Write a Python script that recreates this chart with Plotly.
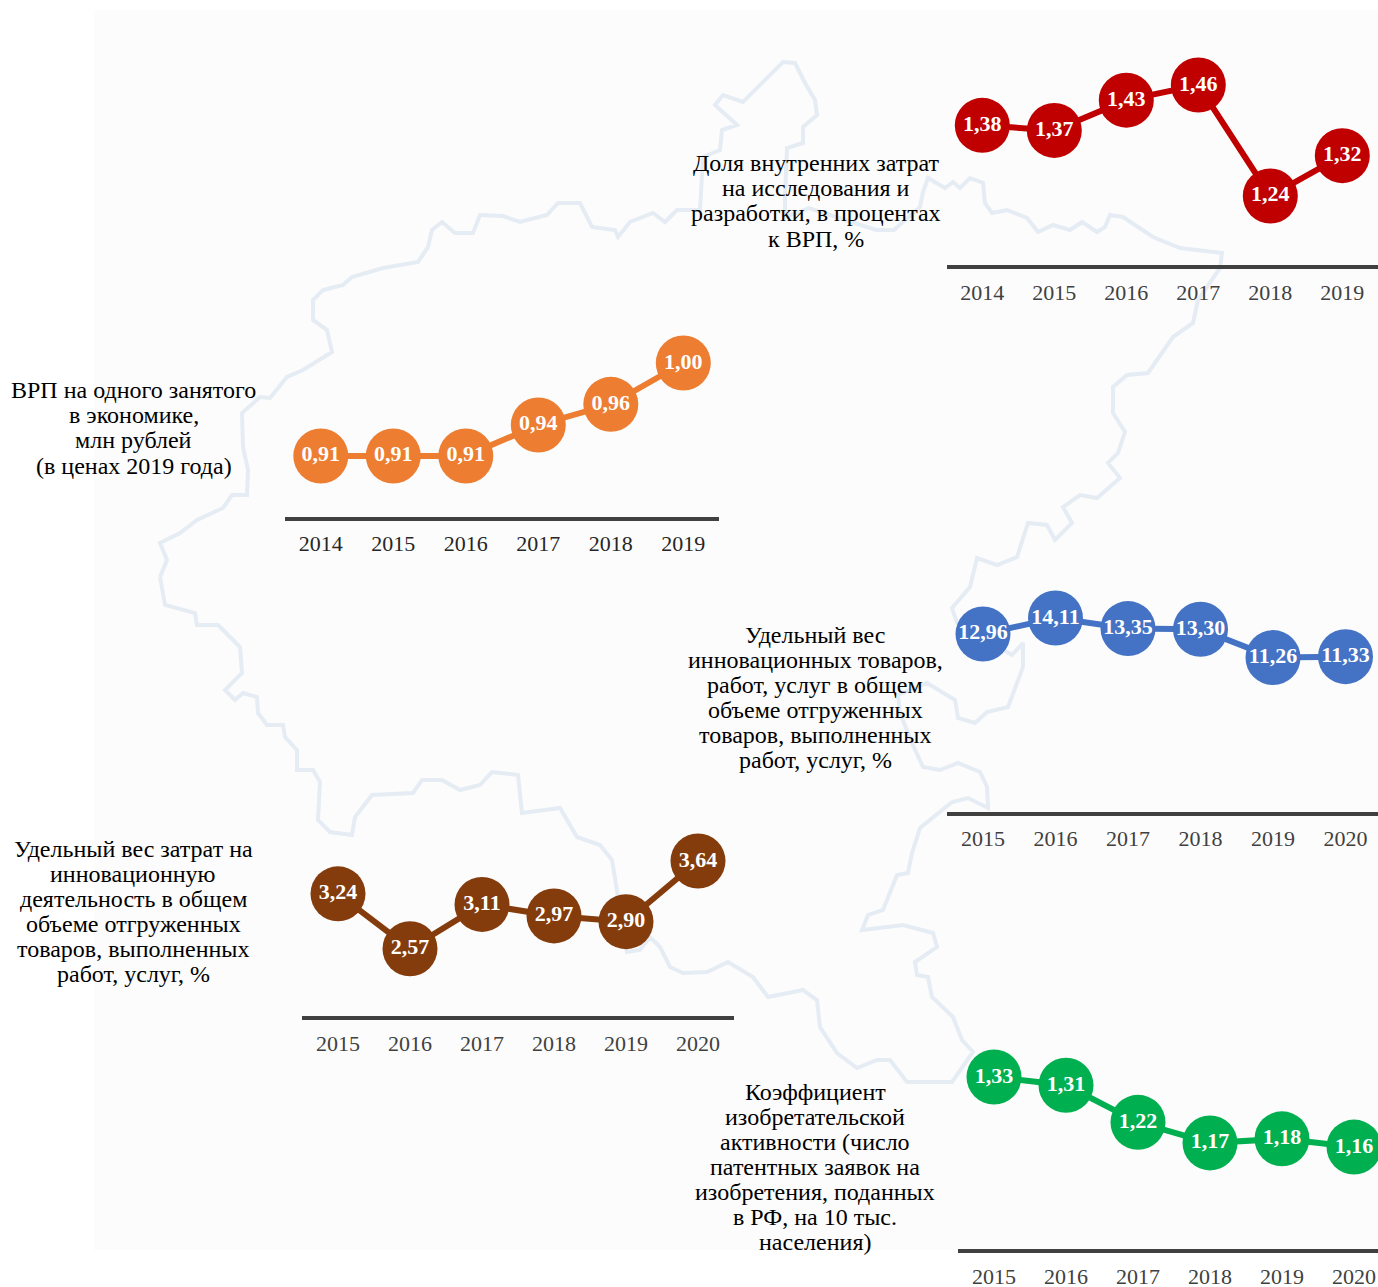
import plotly.graph_objects as go

W, H = 1378, 1287

# ---- data ----
years_a = ["2014", "2015", "2016", "2017", "2018", "2019"]
years_b = ["2015", "2016", "2017", "2018", "2019", "2020"]

rd_share = [1.38, 1.37, 1.43, 1.46, 1.24, 1.32]
grp_per_worker = [0.91, 0.91, 0.91, 0.94, 0.96, 1.00]
innov_goods = [12.96, 14.11, 13.35, 13.30, 11.26, 11.33]
innov_costs = [3.24, 2.57, 3.11, 2.97, 2.90, 3.64]
invent_activity = [1.33, 1.31, 1.22, 1.17, 1.18, 1.16]

rd_label = ["Доля внутренних затрат", "на исследования и", "разработки, в процентах", "к ВРП, %"]
grp_label = ["ВРП на одного занятого", "в экономике,", "млн рублей", "(в ценах 2019 года)"]
goods_label = ["Удельный вес", "инновационных товаров,", "работ, услуг в общем", "объеме отгруженных",
               "товаров, выполненных", "работ, услуг, %"]
costs_label = ["Удельный вес затрат на", "инновационную", "деятельность в общем", "объеме отгруженных",
               "товаров, выполненных", "работ, услуг, %"]
invent_label = ["Коэффициент", "изобретательской", "активности (число", "патентных заявок на",
                "изобретения, поданных", "в РФ, на 10 тыс.", "населения)"]

# faint region outline behind the charts (in picture pixels)
map_x = [160, 167, 160, 180, 197, 223, 232, 247, 248, 243, 242, 260, 270, 287, 303, 332, 327, 313, 313, 323, 343, 352,
         383, 418, 428, 432, 442, 455, 473, 480, 503, 520, 547, 558, 580, 592, 615, 618, 630, 653, 665, 677, 700, 702,
         703, 720, 722, 737, 715, 723, 743, 783, 795, 805, 815, 817, 803, 803, 787, 785, 785, 809, 876, 894, 920, 923,
         928, 945, 953, 960, 970, 983, 985, 992, 1007, 1027, 1038, 1053, 1070, 1082, 1097, 1105, 1110, 1123, 1153, 1180,
         1222, 1220, 1198, 1193, 1173, 1148, 1127, 1113, 1113, 1125, 1118, 1108, 1120, 1097, 1080, 1063, 1072, 1055,
         1047, 1028, 1017, 997, 977, 970, 952, 957, 1012, 1023, 1023, 1008, 987, 975, 958, 955, 927, 898, 900, 912, 923,
         940, 958, 980, 987, 988, 968, 952, 920, 912, 908, 897, 883, 868, 862, 903, 933, 937, 915, 917, 928, 932, 953,
         962, 973, 952, 907, 890, 877, 857, 837, 820, 817, 803, 768, 753, 728, 707, 683, 670, 660, 650, 640, 627, 617,
         612, 600, 577, 560, 522, 518, 492, 480, 460, 442, 422, 413, 372, 355, 352, 330, 318, 320, 313, 297, 297, 285,
         283, 267, 258, 257, 243, 235, 225, 242, 240, 218, 197, 195, 165, 160]
map_y = [577, 560, 543, 533, 520, 508, 495, 495, 470, 447, 413, 397, 398, 377, 370, 352, 330, 320, 300, 290, 285, 277,
         268, 262, 247, 230, 222, 233, 233, 215, 216, 222, 215, 203, 203, 227, 230, 237, 222, 213, 222, 210, 210, 183,
         157, 150, 130, 125, 105, 95, 102, 62, 63, 83, 100, 115, 127, 143, 148, 197, 217, 208, 230, 230, 207, 192,
         178, 188, 182, 188, 178, 183, 203, 213, 210, 218, 232, 225, 230, 222, 232, 227, 215, 217, 237, 248,
         253, 268, 300, 323, 337, 373, 375, 387, 413, 432, 453, 463, 478, 498, 495, 507, 523, 540,
         525, 523, 557, 565, 558, 587, 608, 623, 655, 643, 667, 707, 712, 723, 718, 700, 683, 695, 713, 743, 767,
         770, 763, 772, 787, 808, 798, 802, 828, 853, 873, 875, 910, 915, 930, 925, 933, 947, 962, 975, 977, 997, 1017,
         1040, 1052, 1082, 1082, 1060, 1060, 1068, 1053, 1027, 1000, 990, 997, 977, 962, 972, 973, 967, 947, 937, 950, 952, 893,
         860, 845, 837, 808, 813, 775, 772, 785, 790, 780, 780, 793, 795, 817, 835, 832, 820, 782, 770, 770, 750, 737,
         725, 725, 713, 697, 693, 700, 690, 673, 647, 625, 625, 613, 605, 577]

# ---- layout of the five panels (pixels) ----
panels = [
    dict(cats=years_a, vals=rd_share, color="#C00000", left=947, right=1378, base=265, top=40,
         c0=982.3, step=72, v_ref=1.46, y_ref=85, scale=504.5, tick="#404040", tlen=5, fs=24,
         label=rd_label, lx=816, ly=[163, 188, 213, 239]),
    dict(cats=years_a, vals=grp_per_worker, color="#ED7D31", left=285, right=719, base=517, top=320,
         c0=320.8, step=72.5, v_ref=1.00, y_ref=363, scale=1033, tick="#262626", tlen=4, fs=24,
         label=grp_label, lx=133.5, ly=[390, 415, 440, 466]),
    dict(cats=years_b, vals=innov_goods, color="#4472C4", left=947, right=1378, base=812, top=580,
         c0=983, step=72.5, v_ref=14.11, y_ref=618, scale=13.9, tick="#404040", tlen=4, fs=24,
         label=goods_label, lx=815, ly=[635, 660, 685, 710, 735, 760]),
    dict(cats=years_b, vals=innov_costs, color="#843C0C", left=302, right=734, base=1016, top=820,
         c0=338, step=72, v_ref=3.64, y_ref=861, scale=82, tick="#404040", tlen=5, fs=24,
         label=costs_label, lx=133, ly=[849, 874, 899, 924, 949, 974]),
    dict(cats=years_b, vals=invent_activity, color="#00B050", left=958, right=1378, base=1249, top=1040,
         c0=994, step=72, v_ref=1.33, y_ref=1077, scale=412, tick="#404040", tlen=5, fs=24,
         label=invent_label, lx=815, ly=[1092, 1117, 1142, 1167, 1192, 1217, 1242]),
]

FONT = "Liberation Serif"
fig = go.Figure()

# background outline, in picture pixels on a hidden full-page axis pair
fig.add_trace(go.Scatter(x=map_x, y=map_y, mode="lines", xaxis="x", yaxis="y", hoverinfo="skip",
                         line=dict(color="#E5ECF4", width=4), showlegend=False))

layout = dict(
    width=W, height=H, margin=dict(l=0, r=0, t=0, b=0, pad=0), autosize=False,
    paper_bgcolor="#FFFFFF", plot_bgcolor="rgba(0,0,0,0)", showlegend=False,
    xaxis=dict(domain=[0, 1], range=[0, W], visible=False, fixedrange=True, automargin=False),
    yaxis=dict(domain=[0, 1], range=[H, 0], visible=False, fixedrange=True, automargin=False),
    shapes=[dict(type="rect", xref="paper", yref="paper", layer="below", line=dict(width=0),
                 fillcolor="#FCFCFC", x0=94 / W, x1=1, y0=1 - 1250 / H, y1=1 - 10 / H)],
)

annotations = []
for i, p in enumerate(panels):
    n = i + 2
    xa, ya = f"x{n}", f"y{n}"
    fig.add_trace(go.Scatter(
        x=p["cats"], y=p["vals"], xaxis=xa, yaxis=ya, mode="lines+markers+text",
        line=dict(color=p["color"], width=6),
        marker=dict(color=p["color"], size=55, line=dict(width=0)),
        text=[f"{v:.2f}".replace(".", ",") for v in p["vals"]],
        textposition="middle center",
        textfont=dict(family=FONT, size=22, color="#FFFFFF", weight="bold"),
        cliponaxis=False, showlegend=False,
    ))
    layout[f"xaxis{n}"] = dict(
        domain=[p["left"] / W, p["right"] / W], anchor=ya, type="category",
        categoryorder="array", categoryarray=p["cats"], automargin=False,
        range=[(p["left"] - p["c0"]) / p["step"], (p["right"] - p["c0"]) / p["step"]],
        showline=True, linecolor="#404040", linewidth=4, showgrid=False, zeroline=False,
        ticks="outside", ticklen=p["tlen"], tickwidth=0, tickcolor="rgba(0,0,0,0)",
        tickfont=dict(family=FONT, size=22, color=p["tick"]), fixedrange=True,
    )
    layout[f"yaxis{n}"] = dict(
        domain=[1 - p["base"] / H, 1 - p["top"] / H], anchor=xa, automargin=False,
        range=[p["v_ref"] - (p["base"] - p["y_ref"]) / p["scale"],
               p["v_ref"] + (p["y_ref"] - p["top"]) / p["scale"]],
        visible=False, showgrid=False, zeroline=False, fixedrange=True,
    )
    for line, y in zip(p["label"], p["ly"]):
        annotations.append(dict(
            text=line, xref="paper", yref="paper", x=p["lx"] / W, y=1 - y / H,
            xanchor="center", yanchor="middle", showarrow=False,
            font=dict(family=FONT, size=p["fs"], color="#000000"),
        ))

layout["annotations"] = annotations
fig.update_layout(**layout)
fig.write_html("out.html", default_width=f"{W}px", default_height=f"{H}px",
               post_script="document.body.style.margin='0';",
               config=dict(displayModeBar=False, responsive=False))
